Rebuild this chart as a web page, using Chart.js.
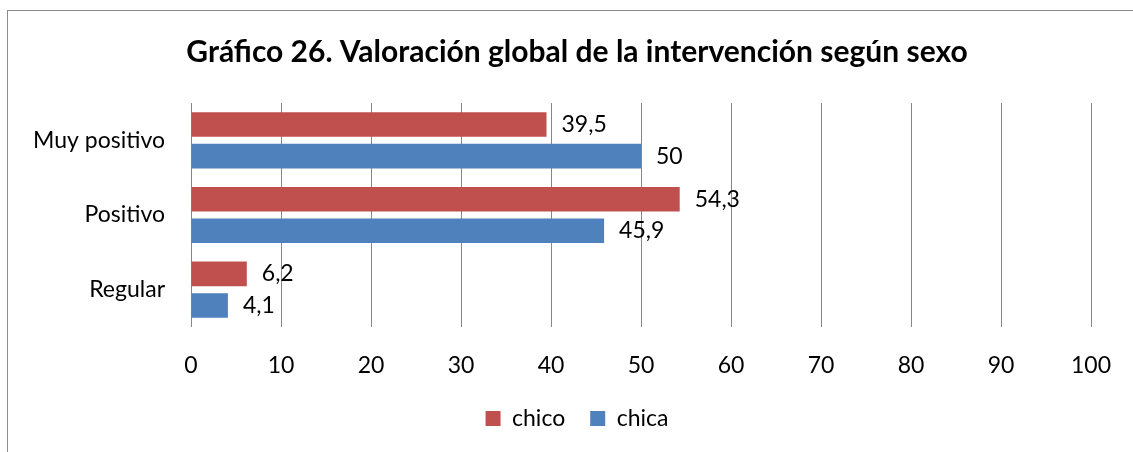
<!DOCTYPE html>
<html><head><meta charset="utf-8">
<script src="https://cdn.jsdelivr.net/npm/chart.js@4/dist/chart.umd.min.js"></script>
<style>
html,body{margin:0;padding:0;background:#fff;width:1133px;height:452px;overflow:hidden;}
#frame{position:absolute;left:7px;top:10px;width:1140px;height:460px;border:1px solid #8c8c8c;box-sizing:border-box;}
#wrap{position:absolute;left:0;top:0;width:1133px;height:452px;}
</style></head>
<body>
<div id="frame"></div>
<div id="wrap"><canvas id="c" width="1133" height="452"></canvas></div>
<script>
const categories = ["Muy positivo", "Positivo", "Regular"];
const chico = [39.5, 54.3, 6.2];
const chica = [50, 45.9, 4.1];
const seriesNames = ["chico", "chica"];
const xTicks = [0,10,20,30,40,50,60,70,80,90,100];
const titleText = "Gráfico 26. Valoración global de la intervención según sexo";

const FONT = "Lato, 'Open Sans', sans-serif";

const valueLabels = {
  id: 'valueLabels',
  afterDatasetsDraw(chart) {
    const ctx = chart.ctx;
    ctx.save();
    ctx.font = "23px " + FONT;
    ctx.fillStyle = "#000";
    ctx.textBaseline = "middle";
    ctx.textAlign = "left";
    chart.data.datasets.forEach((ds, i) => {
      const meta = chart.getDatasetMeta(i);
      meta.data.forEach((bar, j) => {
        const txt = String(ds.data[j]).replace('.', ',');
        ctx.fillText(txt, bar.x + 15, bar.y);
      });
    });
    ctx.restore();
  }
};

new Chart(document.getElementById('c'), {
  type: 'bar',
  data: {
    labels: categories,
    datasets: [
      {label: seriesNames[0], data: chico, backgroundColor: '#C0504D', categoryPercentage: 0.844, barPercentage: 0.78},
      {label: seriesNames[1], data: chica, backgroundColor: '#4F81BD', categoryPercentage: 0.844, barPercentage: 0.78}
    ]
  },
  options: {
    indexAxis: 'y',
    responsive: false,
    animation: false,
    layout: {padding: {left: 63, right: 42, top: 0, bottom: 12}},
    plugins: {
      title: {display: true, text: titleText, color: '#000',
        font: {family: FONT, size: 30, weight: 'bold'},
        padding: {top: 34, bottom: 33}},
      legend: {position: 'bottom',
        labels: {color: '#000', font: {family: FONT, size: 23}, boxWidth: 15, boxHeight: 15, padding: 25}},
      tooltip: {enabled: false}
    },
    scales: {
      x: {
        min: 0, max: 100,
        afterBuildTicks(s) { s.ticks = xTicks.map(v => ({value: v})); },
        afterFit(s) { s.height = 55; s.paddingLeft = 20; s.paddingRight = 20; },
        grid: {color: '#868686', lineWidth: 1, drawTicks: false},
        border: {display: false},
        ticks: {color: '#000', font: {family: FONT, size: 23}, padding: 25}
      },
      y: {
        grid: {display: false},
        border: {display: false},
        afterFit(s) { s.width = 128; s._computeLabelArea = () => undefined; },
        ticks: {color: '#000', font: {family: FONT, size: 23}, padding: 18}
      }
    }
  },
  plugins: [valueLabels]
});
</script>
</body></html>
